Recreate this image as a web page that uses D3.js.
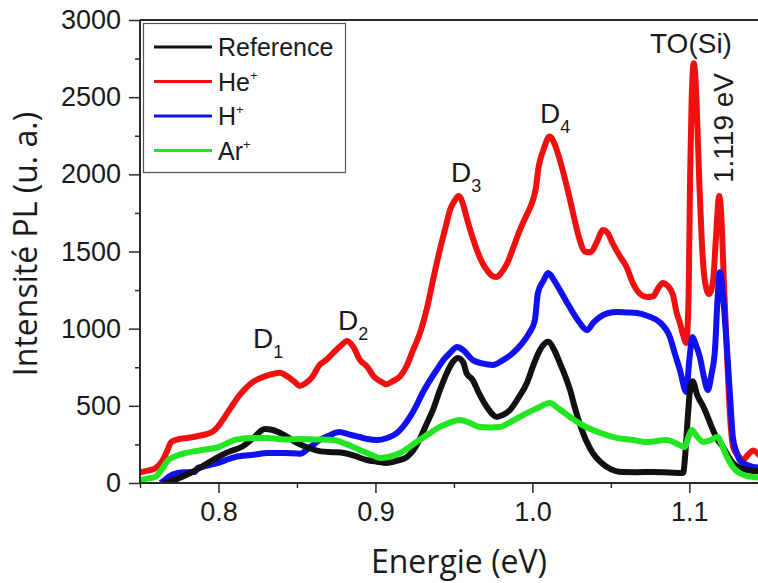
<!DOCTYPE html>
<html>
<head>
<meta charset="utf-8">
<script src="https://cdn.jsdelivr.net/npm/d3@7"></script>
<style>
  html, body { margin: 0; padding: 0; background: #fff; }
  svg { display: block; }
</style>
</head>
<body>
<svg id="chart" width="758" height="583"></svg>
<script>
// ---------- data ----------
const xTicks = [0.8, 0.9, 1.0, 1.1];
const xTickLabels = ["0.8", "0.9", "1.0", "1.1"];
const yTicks = [0, 500, 1000, 1500, 2000, 2500, 3000];
const yTickLabels = ["0", "500", "1000", "1500", "2000", "2500", "3000"];
const xMinor = [0.75, 0.85, 0.95, 1.05];
const yMinor = [250, 750, 1250, 1750, 2250, 2750];

const seriesNames = ["Reference", "He", "H", "Ar"];
const seriesColors = ["#111111", "#f01010", "#1010f0", "#22e622"];

const referenceE = [0.765,0.772,0.778,0.785,0.790,0.795,0.800,0.806,0.815,0.822,0.8296,0.834,0.838,0.844,0.850,0.857,0.865,0.873,0.880,0.887,0.8946,0.901,0.907,0.914,0.920,0.924,0.928,0.932,0.9366,0.941,0.9455,0.949,0.9525,0.956,0.958,0.962,0.966,0.971,0.9774,0.981,0.9857,0.991,0.9965,1.0005,1.0048,1.010,1.014,1.0175,1.021,1.024,1.027,1.030,1.034,1.0385,1.043,1.0475,1.0577,1.066,1.077,1.087,1.096,1.0975,1.099,1.100,1.102,1.105,1.109,1.112,1.115,1.118,1.1214,1.125,1.1277,1.132,1.137,1.145];
const referenceV = [0,20,45,80,110,140,170,200,235,290,350,345,330,298,260,230,205,200,195,175,149,138,130,145,168,210,279,370,473,600,713,780,810,780,713,667,580,492,428,440,473,550,648,760,862,915,860,777,690,603,490,389,280,194,140,104,71,70,71,68,65,200,428,560,660,570,492,420,343,280,233,170,130,100,84,75];

const heE = [0.750,0.755,0.760,0.764,0.767,0.770,0.775,0.780,0.785,0.790,0.796,0.800,0.804,0.808,0.8125,0.817,0.821,0.828,0.834,0.839,0.844,0.848,0.852,0.856,0.860,0.864,0.869,0.873,0.878,0.882,0.886,0.890,0.895,0.899,0.903,0.907,0.911,0.9156,0.920,0.924,0.928,0.933,0.937,0.941,0.945,0.9475,0.9505,0.953,0.956,0.958,0.961,0.9646,0.968,0.971,0.974,0.977,0.980,0.984,0.988,0.992,0.996,0.9997,1.002,1.004,1.007,1.011,1.014,1.0175,1.021,1.024,1.027,1.030,1.0335,1.037,1.041,1.045,1.048,1.051,1.056,1.060,1.064,1.068,1.073,1.077,1.080,1.083,1.086,1.0895,1.092,1.094,1.096,1.098,1.0995,1.1005,1.1015,1.1028,1.104,1.1055,1.1065,1.108,1.110,1.1125,1.115,1.117,1.119,1.1205,1.122,1.1235,1.125,1.1265,1.128,1.131,1.134,1.138,1.1405,1.145];
const heV = [70,80,97,140,200,266,285,292,300,311,330,370,428,490,557,610,648,685,705,715,690,660,630,650,690,760,800,842,890,920,880,800,750,690,660,640,660,690,760,862,960,1140,1330,1510,1670,1769,1830,1860,1800,1724,1620,1510,1430,1380,1345,1335,1360,1425,1530,1639,1730,1814,1900,2050,2158,2245,2200,2093,1960,1834,1700,1580,1500,1495,1560,1640,1620,1555,1465,1400,1296,1231,1205,1210,1260,1296,1280,1220,1100,1037,960,907,1200,2000,2500,2720,2600,2200,1900,1550,1300,1225,1300,1600,1860,1700,1300,950,600,350,230,180,150,190,210,175];

const hE = [0.763,0.766,0.768,0.774,0.780,0.785,0.787,0.7895,0.795,0.800,0.805,0.8105,0.821,0.8315,0.842,0.852,0.858,0.8646,0.870,0.877,0.883,0.890,0.895,0.901,0.907,0.9137,0.918,0.922,0.926,0.930,0.935,0.939,0.9435,0.9475,0.952,0.956,0.962,0.968,0.9748,0.981,0.9876,0.993,0.998,1.0016,1.0035,1.007,1.010,1.014,1.0175,1.022,1.026,1.030,1.0347,1.039,1.043,1.048,1.0538,1.060,1.0666,1.074,1.081,1.0876,1.091,1.094,1.098,1.100,1.102,1.104,1.1067,1.109,1.1118,1.114,1.1163,1.118,1.1194,1.1215,1.124,1.126,1.1277,1.130,1.132,1.136,1.1405,1.145];
const hV = [0,20,39,65,70,72,100,104,118,130,150,168,181,194,194,190,230,279,305,330,315,298,285,279,290,324,370,428,500,583,670,732,800,842,881,860,797,775,765,795,842,900,972,1056,1231,1310,1360,1310,1250,1170,1101,1040,991,1040,1076,1100,1108,1105,1101,1080,1043,946,830,732,590,800,946,900,816,700,603,700,862,1200,1365,1200,862,550,298,200,149,120,104,100];

const arE = [0.750,0.755,0.7596,0.764,0.768,0.773,0.779,0.784,0.7895,0.795,0.800,0.805,0.8105,0.821,0.8315,0.842,0.852,0.862,0.873,0.882,0.890,0.897,0.903,0.909,0.9156,0.922,0.928,0.935,0.941,0.947,0.954,0.960,0.9666,0.973,0.979,0.987,0.9965,1.004,1.011,1.017,1.024,1.031,1.0385,1.046,1.0538,1.063,1.073,1.0857,1.093,1.097,1.0995,1.1016,1.105,1.109,1.113,1.118,1.121,1.124,1.128,1.132,1.137,1.1405,1.145];
const arV = [19,30,39,90,149,175,194,205,214,222,233,255,279,292,292,282,285,282,279,250,214,185,162,170,194,235,279,325,363,390,408,390,363,360,363,400,453,490,518,480,428,380,343,315,292,280,266,279,250,233,300,343,300,266,275,298,240,168,100,65,45,39,35];

// ---------- drawing ----------
const svg = d3.select("#chart");
const W = 758, H = 583;
svg.append("rect").attr("width", W).attr("height", H).attr("fill", "#fff");

const x = d3.scaleLinear().domain([0.75, 1.145]).range([140, 760]);
const y = d3.scaleLinear().domain([0, 3000]).range([483, 20]);
const axisColor = "#2a2a2a";
const tickFont = "'Liberation Sans', Arial, sans-serif";

svg.append("defs").append("clipPath").attr("id", "plotclip")
  .append("rect").attr("x", 140).attr("y", 20).attr("width", W - 140).attr("height", 463);

const series = [
  { name: "He", e: heE, v: heV, color: seriesColors[1] },
  { name: "H", e: hE, v: hV, color: seriesColors[2] },
  { name: "Reference", e: referenceE, v: referenceV, color: seriesColors[0] },
  { name: "Ar", e: arE, v: arV, color: seriesColors[3] }
];

const line = d3.line()
  .x(d => x(d[0]))
  .y(d => y(d[1]))
  .curve(d3.curveMonotoneX);

const plot = svg.append("g").attr("clip-path", "url(#plotclip)");
series.forEach(s => {
  const pts = s.e.map((e, i) => [e, s.v[i]]);
  plot.append("path")
    .datum(pts)
    .attr("d", line)
    .attr("fill", "none")
    .attr("stroke", s.color)
    .attr("stroke-width", 6)
    .attr("stroke-linejoin", "round");
});

// top border
svg.append("line").attr("x1", 140).attr("x2", W).attr("y1", 20).attr("y2", 20)
  .attr("stroke", axisColor).attr("stroke-width", 2);

// Y axis
const yAxisMinor = d3.axisLeft(y).tickValues(yMinor).tickSize(5).tickFormat("");
const gyMinor = svg.append("g").attr("transform", "translate(140,0)").call(yAxisMinor);
gyMinor.select(".domain").remove();
gyMinor.selectAll("line").attr("stroke", axisColor).attr("stroke-width", 1.5);

const yAxis = d3.axisLeft(y).tickValues(yTicks).tickSize(11).tickPadding(8)
  .tickFormat((d, i) => yTickLabels[i]);
const gy = svg.append("g").attr("transform", "translate(140,0)").call(yAxis);
gy.select(".domain").attr("stroke", axisColor).attr("stroke-width", 2).attr("d", "M0,483V20");
gy.selectAll("line").attr("stroke", axisColor).attr("stroke-width", 1.5);
gy.selectAll("text").attr("font-family", tickFont).attr("font-size", 27).attr("fill", "#1a1a1a");

// X axis
const xAxisMinor = d3.axisBottom(x).tickValues(xMinor).tickSize(5).tickFormat("");
const gxMinor = svg.append("g").attr("transform", "translate(0,483)").call(xAxisMinor);
gxMinor.select(".domain").remove();
gxMinor.selectAll("line").attr("stroke", axisColor).attr("stroke-width", 1.5);

const xAxis = d3.axisBottom(x).tickValues(xTicks).tickSize(10).tickPadding(9)
  .tickFormat((d, i) => xTickLabels[i]);
const gx = svg.append("g").attr("transform", "translate(0,483)").call(xAxis);
gx.select(".domain").attr("stroke", axisColor).attr("stroke-width", 2).attr("d", "M140,0H" + W);
gx.selectAll("line").attr("stroke", axisColor).attr("stroke-width", 1.5);
gx.selectAll("text").attr("font-family", tickFont).attr("font-size", 27).attr("fill", "#1a1a1a");

// axis titles
const titleFont = "'Open Sans', 'Noto Sans', sans-serif";
svg.append("text").attr("x", 459).attr("y", 573).attr("text-anchor", "middle")
  .attr("font-family", titleFont).attr("font-size", 32).attr("fill", "#1a1a1a")
  .text("Energie (eV)");
svg.append("text").attr("transform", "translate(37,244) rotate(-90)").attr("text-anchor", "middle")
  .attr("font-family", titleFont).attr("font-size", 32).attr("fill", "#1a1a1a")
  .text("Intensité PL (u. a.)");

// legend
const legend = svg.append("g");
legend.append("rect").attr("x", 143.5).attr("y", 23.5).attr("width", 202).attr("height", 149)
  .attr("fill", "#fff").attr("stroke", "#555").attr("stroke-width", 1.2);
const legendRows = [
  { label: "Reference", sup: "", color: seriesColors[0] },
  { label: "He", sup: "+", color: seriesColors[1] },
  { label: "H", sup: "+", color: seriesColors[2] },
  { label: "Ar", sup: "+", color: seriesColors[3] }
];
legendRows.forEach((r, i) => {
  const cy = 47 + i * 34.5;
  legend.append("line").attr("x1", 154).attr("x2", 212).attr("y1", cy).attr("y2", cy)
    .attr("stroke", r.color).attr("stroke-width", 3);
  const t = legend.append("text").attr("x", 218).attr("y", cy + 9)
    .attr("font-family", tickFont).attr("font-size", 25).attr("fill", "#1a1a1a");
  t.append("tspan").text(r.label);
  if (r.sup) t.append("tspan").attr("dy", -11).attr("font-size", 13).text(r.sup);
});

// peak annotations
function dLabel(xp, yp, sub) {
  const t = svg.append("text").attr("x", xp).attr("y", yp)
    .attr("font-family", tickFont).attr("font-size", 28).attr("fill", "#1a1a1a");
  t.append("tspan").text("D");
  t.append("tspan").attr("dy", 10).attr("font-size", 18).text(sub);
}
dLabel(253, 348, "1");
dLabel(338, 330, "2");
dLabel(451, 182, "3");
dLabel(540, 123, "4");

svg.append("text").attr("x", 650).attr("y", 53)
  .attr("font-family", tickFont).attr("font-size", 28).attr("fill", "#1a1a1a")
  .text("TO(Si)");
svg.append("text").attr("transform", "translate(733,183) rotate(-90)")
  .attr("font-family", tickFont).attr("font-size", 28).attr("fill", "#1a1a1a")
  .text("1.119 eV");
</script>
</body>
</html>
